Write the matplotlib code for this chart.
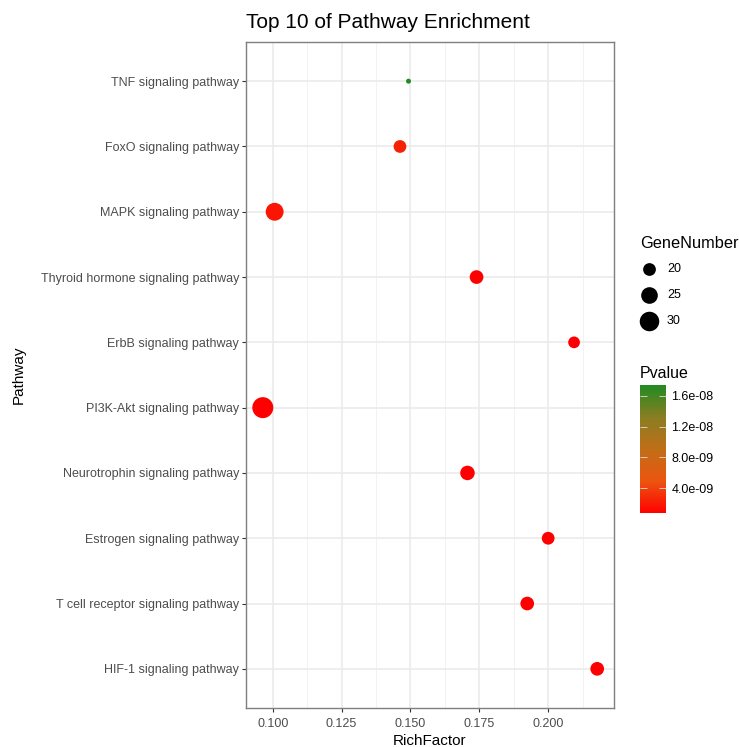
import numpy as np
import matplotlib
matplotlib.use("Agg")
import matplotlib.pyplot as plt
from matplotlib.colors import LinearSegmentedColormap, Normalize

plt.rcParams['font.family'] = ['Liberation Sans', 'DejaVu Sans']

# data (top to bottom as shown)
pathways = [
    "TNF signaling pathway",
    "FoxO signaling pathway",
    "MAPK signaling pathway",
    "Thyroid hormone signaling pathway",
    "ErbB signaling pathway",
    "PI3K-Akt signaling pathway",
    "Neurotrophin signaling pathway",
    "Estrogen signaling pathway",
    "T cell receptor signaling pathway",
    "HIF-1 signaling pathway",
]
rich_factor = [0.1493, 0.1462, 0.1007, 0.1740, 0.2094, 0.0964, 0.1707, 0.2000, 0.1924, 0.2178]
gene_number = [16, 20, 27, 21, 19, 33, 22, 20, 21, 21]
pvalue = [1.74e-8, 2.4e-9, 1.8e-9, 8e-10, 8e-10, 7.5e-10, 8e-10, 8e-10, 8e-10, 8e-10]

legend_sizes = [20, 25, 30]
cbar_ticks = [4e-9, 8e-9, 1.2e-8, 1.6e-8]
cbar_labels = ["4.0e-09", "8.0e-09", "1.2e-08", "1.6e-08"]

DPI = 100
px = 72.0 / DPI
gmin, gmax = min(gene_number), max(gene_number)


def marker_area(g):
    # area-style size scale, diameter in pixels
    frac = np.clip((np.asarray(g, float) - gmin) / (gmax - gmin), 0, 1)
    d = 5.0 + 16.0 * np.sqrt(frac)
    return (d * px) ** 2


# red -> forestgreen, roughly as a Lab blend
cmap = LinearSegmentedColormap.from_list("rg", [
    (0.00, "#FF0000"),
    (0.25, "#EB5510"),
    (0.50, "#C06E18"),
    (0.75, "#8A7D22"),
    (1.00, "#228B22"),
])
norm = Normalize(vmin=min(pvalue), vmax=max(pvalue))

fig = plt.figure(figsize=(7.39, 7.47), dpi=DPI)
W, H = 739, 747
ax = fig.add_axes([246 / W, 1 - 708 / H, (614 - 246) / W, (708 - 42) / H])

ypos = np.arange(len(pathways))[::-1] + 1
ax.scatter(rich_factor, ypos, s=marker_area(gene_number), c=pvalue, cmap=cmap, norm=norm,
           linewidths=0, zorder=3)

ax.set_xlim(0.0903, 0.2239)
ax.set_ylim(0.4, 10.6)
ax.set_yticks(ypos)
ax.set_yticklabels(pathways)
ax.set_xticks([0.100, 0.125, 0.150, 0.175, 0.200])
ax.set_xticklabels(["0.100", "0.125", "0.150", "0.175", "0.200"])
ax.set_xticks([0.1125, 0.1375, 0.1625, 0.1875, 0.2125], minor=True)

ax.grid(True, which="major", color="#EBEBEB", linewidth=1.2, zorder=0)
ax.grid(True, which="minor", axis="x", color="#F2F2F2", linewidth=0.7, zorder=0)
ax.set_axisbelow(True)
for sp in ax.spines.values():
    sp.set_color("#7F7F7F")
    sp.set_linewidth(1.0)
ax.tick_params(axis="both", which="major", length=3, width=0.8, color="#333333",
               labelcolor="#4D4D4D", labelsize=9)
ax.tick_params(axis="x", which="major", pad=4)
ax.tick_params(axis="y", which="major", pad=2)
ax.tick_params(axis="x", which="minor", length=0)

ax.set_xlabel("RichFactor", fontsize=11, labelpad=3)
ax.set_ylabel("Pathway", fontsize=11)
ax.yaxis.set_label_coords((26 - 246) / 368, 0.5)
ax.set_title("Top 10 of Pathway Enrichment", fontsize=15, loc="left", pad=10)

# size legend
fig.text(640 / W, 1 - 243 / H, "GeneNumber", fontsize=11.8, va="center", ha="left")
for g, yy in zip(legend_sizes, [269, 295, 321]):
    lx, ly = 649 / W, 1 - yy / H
    fig.add_artist(plt.Line2D([lx], [ly], marker="o", markersize=np.sqrt(marker_area(g)),
                              color="black", markeredgewidth=0, transform=fig.transFigure))
    fig.text(667 / W, ly, str(g), fontsize=9, va="center", ha="left")

# colorbar
fig.text(640 / W, 1 - 373 / H, "Pvalue", fontsize=11.5, va="center", ha="left")
cax = fig.add_axes([640 / W, 1 - 513 / H, 26 / W, (513 - 385) / H])
sm = plt.cm.ScalarMappable(norm=norm, cmap=cmap)
cb = fig.colorbar(sm, cax=cax)
cb.set_ticks(cbar_ticks)
cb.set_ticklabels(cbar_labels)
cb.outline.set_visible(False)
cax.tick_params(length=5, width=0.6, color="#DDDDDD", direction="in", left=True,
                labelsize=9, pad=4)

fig.savefig("out.png", dpi=DPI)
